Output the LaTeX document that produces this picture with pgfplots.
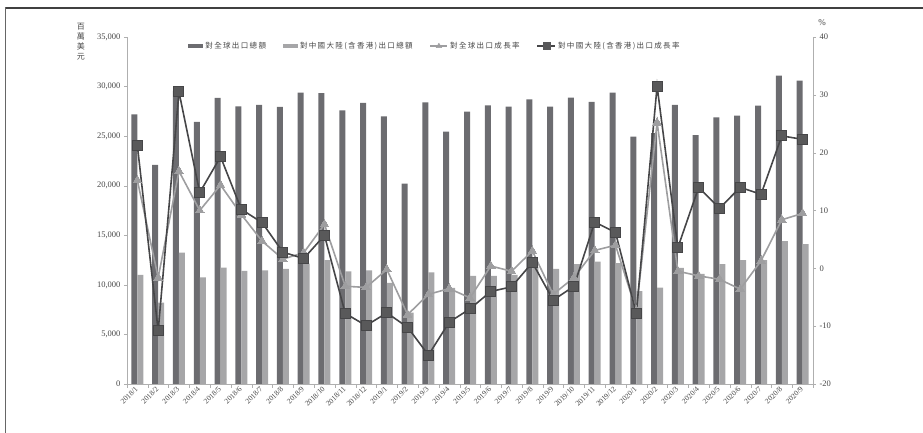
\documentclass[border=0pt]{standalone}
\usepackage{pgfplots}
\pgfplotsset{compat=1.18}
\usepackage{pgfplotstable}
\usepackage{fontspec}
\setmainfont{Liberation Serif}
\newfontfamily\cjk[LetterSpace=18]{Noto Sans CJK TC}
\definecolor{darkbar}{RGB}{108,108,112}
\definecolor{lightbar}{RGB}{166,166,168}
\definecolor{darkline}{RGB}{70,70,72}
\definecolor{lightline}{RGB}{158,158,160}
\definecolor{axisgray}{RGB}{175,175,175}
\definecolor{txt}{RGB}{70,70,70}

\pgfplotstableread{
x g c gg cg
0 27200 11000 15.2 21.2
1 22100 8200 -1.6 -10.8
2 29600 13250 16.8 30.5
3 26450 10750 10.0 13.1
4 28850 11750 14.4 19.3
5 28000 11400 9.3 10.2
6 28150 11450 4.7 7.9
7 27950 11600 1.6 2.8
8 29400 12150 2.7 1.7
9 29350 12500 7.6 5.7
10 27600 11350 -3.1 -7.8
11 28350 11450 -3.3 -9.9
12 27000 10200 -0.2 -7.7
13 20200 7200 -8.0 -10.2
14 28400 11250 -4.5 -15.0
15 25450 9700 -3.5 -9.3
16 27480 10900 -5.1 -7.0
17 28100 10900 0.4 -4.0
18 27980 11000 -0.5 -3.2
19 28720 11800 3.0 1.0
20 27980 11600 -4.5 -5.5
21 28880 12100 -1.6 -3.1
22 28450 12340 3.1 8.0
23 29400 12200 4.0 6.2
24 24950 9380 -7.3 -7.8
25 25300 9720 25.2 31.5
26 28150 11700 -0.5 3.6
27 25100 11100 -1.3 14.0
28 26900 12100 -1.9 10.4
29 27070 12500 -3.6 14.0
30 28070 12500 1.3 12.8
31 31100 14400 8.4 22.9
32 30600 14100 9.5 22.3
}\data

\begin{document}
\begin{tikzpicture}
\path[use as bounding box] (-127pt,-49pt) rectangle (796pt,384pt);
\draw[line width=1.6pt, color=black!75] (-122pt,376pt) -- (796pt,376pt);
\draw[line width=0.8pt, color=black!60] (-122pt,376.8pt) -- (-122pt,-49pt);
\begin{axis}[
  scale only axis, width=686pt, height=347pt,
  xmin=-0.5, xmax=32.5, ymin=0, ymax=35000,
  axis x line*=bottom, axis y line*=left,
  axis line style={axisgray},
  tick align=outside,
  xtick={0,...,32},
  xticklabels={2018/1,2018/2,2018/3,2018/4,2018/5,2018/6,2018/7,2018/8,2018/9,2018/10,2018/11,2018/12,2019/1,2019/2,2019/3,2019/4,2019/5,2019/6,2019/7,2019/8,2019/9,2019/10,2019/11,2019/12,2020/1,2020/2,2020/3,2020/4,2020/5,2020/6,2020/7,2020/8,2020/9},
  major x tick style={draw=none},
  minor xtick={-0.5,0.5,...,32.5},
  minor x tick style={axisgray},
  minor tick length=4pt,
  xticklabel style={rotate=45, anchor=east, font=\fontsize{7.5}{8}\selectfont, text=txt, inner sep=1pt},
  ytick={0,5000,...,35000},
  major y tick style={axisgray},
  major tick length=3pt,
  scaled y ticks=false,
  /pgf/number format/.cd, 1000 sep={,}, assume math mode=true,
  /pgfplots/.cd,
  yticklabel style={font=\fontsize{8.5}{9}\selectfont, text=txt},
  ybar=0pt, bar width=6pt,
  legend columns=4,
  legend style={at={(0.449,0.974)}, anchor=center, draw=none, fill=none,
    font=\cjk\fontsize{7.5}{8}\selectfont, text=txt,
    /tikz/every even column/.append style={column sep=15pt}},
]
\addplot[fill=darkbar, draw=none, legend image code/.code={\fill[darkbar] (0pt,-2pt) rectangle (15pt,2pt);}] table[x=x,y=g]{\data};
\addlegendentry{對全球出口總額}
\addplot[fill=lightbar, draw=none, legend image code/.code={\fill[lightbar] (0pt,-2pt) rectangle (15pt,2pt);}] table[x=x,y=c]{\data};
\addlegendentry{對中國大陸(含香港)出口總額}
\addlegendimage{legend image code/.code={\draw[lightline, line width=1.5pt] (0pt,0pt) -- (17pt,0pt); \fill[lightline] (8.5pt,0pt) ++(0,2.8pt) -- ++(-2.8pt,-4.4pt) -- ++(5.6pt,0) -- cycle;}}
\addlegendentry{對全球出口成長率}
\addlegendimage{legend image code/.code={\draw[darkline, line width=1.5pt] (0pt,0pt) -- (18pt,0pt); \fill[darkline!90] (5.5pt,-3.5pt) rectangle (12.5pt,3.5pt);}}
\addlegendentry{對中國大陸(含香港)出口成長率}
\end{axis}
\begin{axis}[
  scale only axis, width=686pt, height=347pt,
  xmin=-0.5, xmax=32.5, ymin=-20, ymax=40,
  axis y line*=right, axis x line=none,
  axis line style={axisgray},
  ytick={-20,-10,...,40},
  tick align=outside, major tick length=3pt,
  major y tick style={axisgray},
  /pgf/number format/assume math mode=true,
  yticklabel style={font=\fontsize{8.5}{9}\selectfont, text=txt},
]
\addplot[lightline, line width=1.6pt, mark=triangle*, mark size=5pt, mark options={fill=lightline, draw=lightline, line width=0pt}] table[x=x,y=gg]{\data};
\addplot[darkline, line width=1.6pt, mark=square*, mark size=5pt, mark options={fill=darkline!90, draw=darkline, line width=0pt}] table[x=x,y=cg]{\data};
\end{axis}
\node[text=txt, font=\fontsize{9}{10}\selectfont] at (695pt,361pt) {\%};
\node[text=txt, align=center, font=\cjk\fontsize{8}{10}\selectfont, inner sep=0pt] at (-46pt,342pt) {百\\萬\\美\\元};
\end{tikzpicture}
\end{document}
